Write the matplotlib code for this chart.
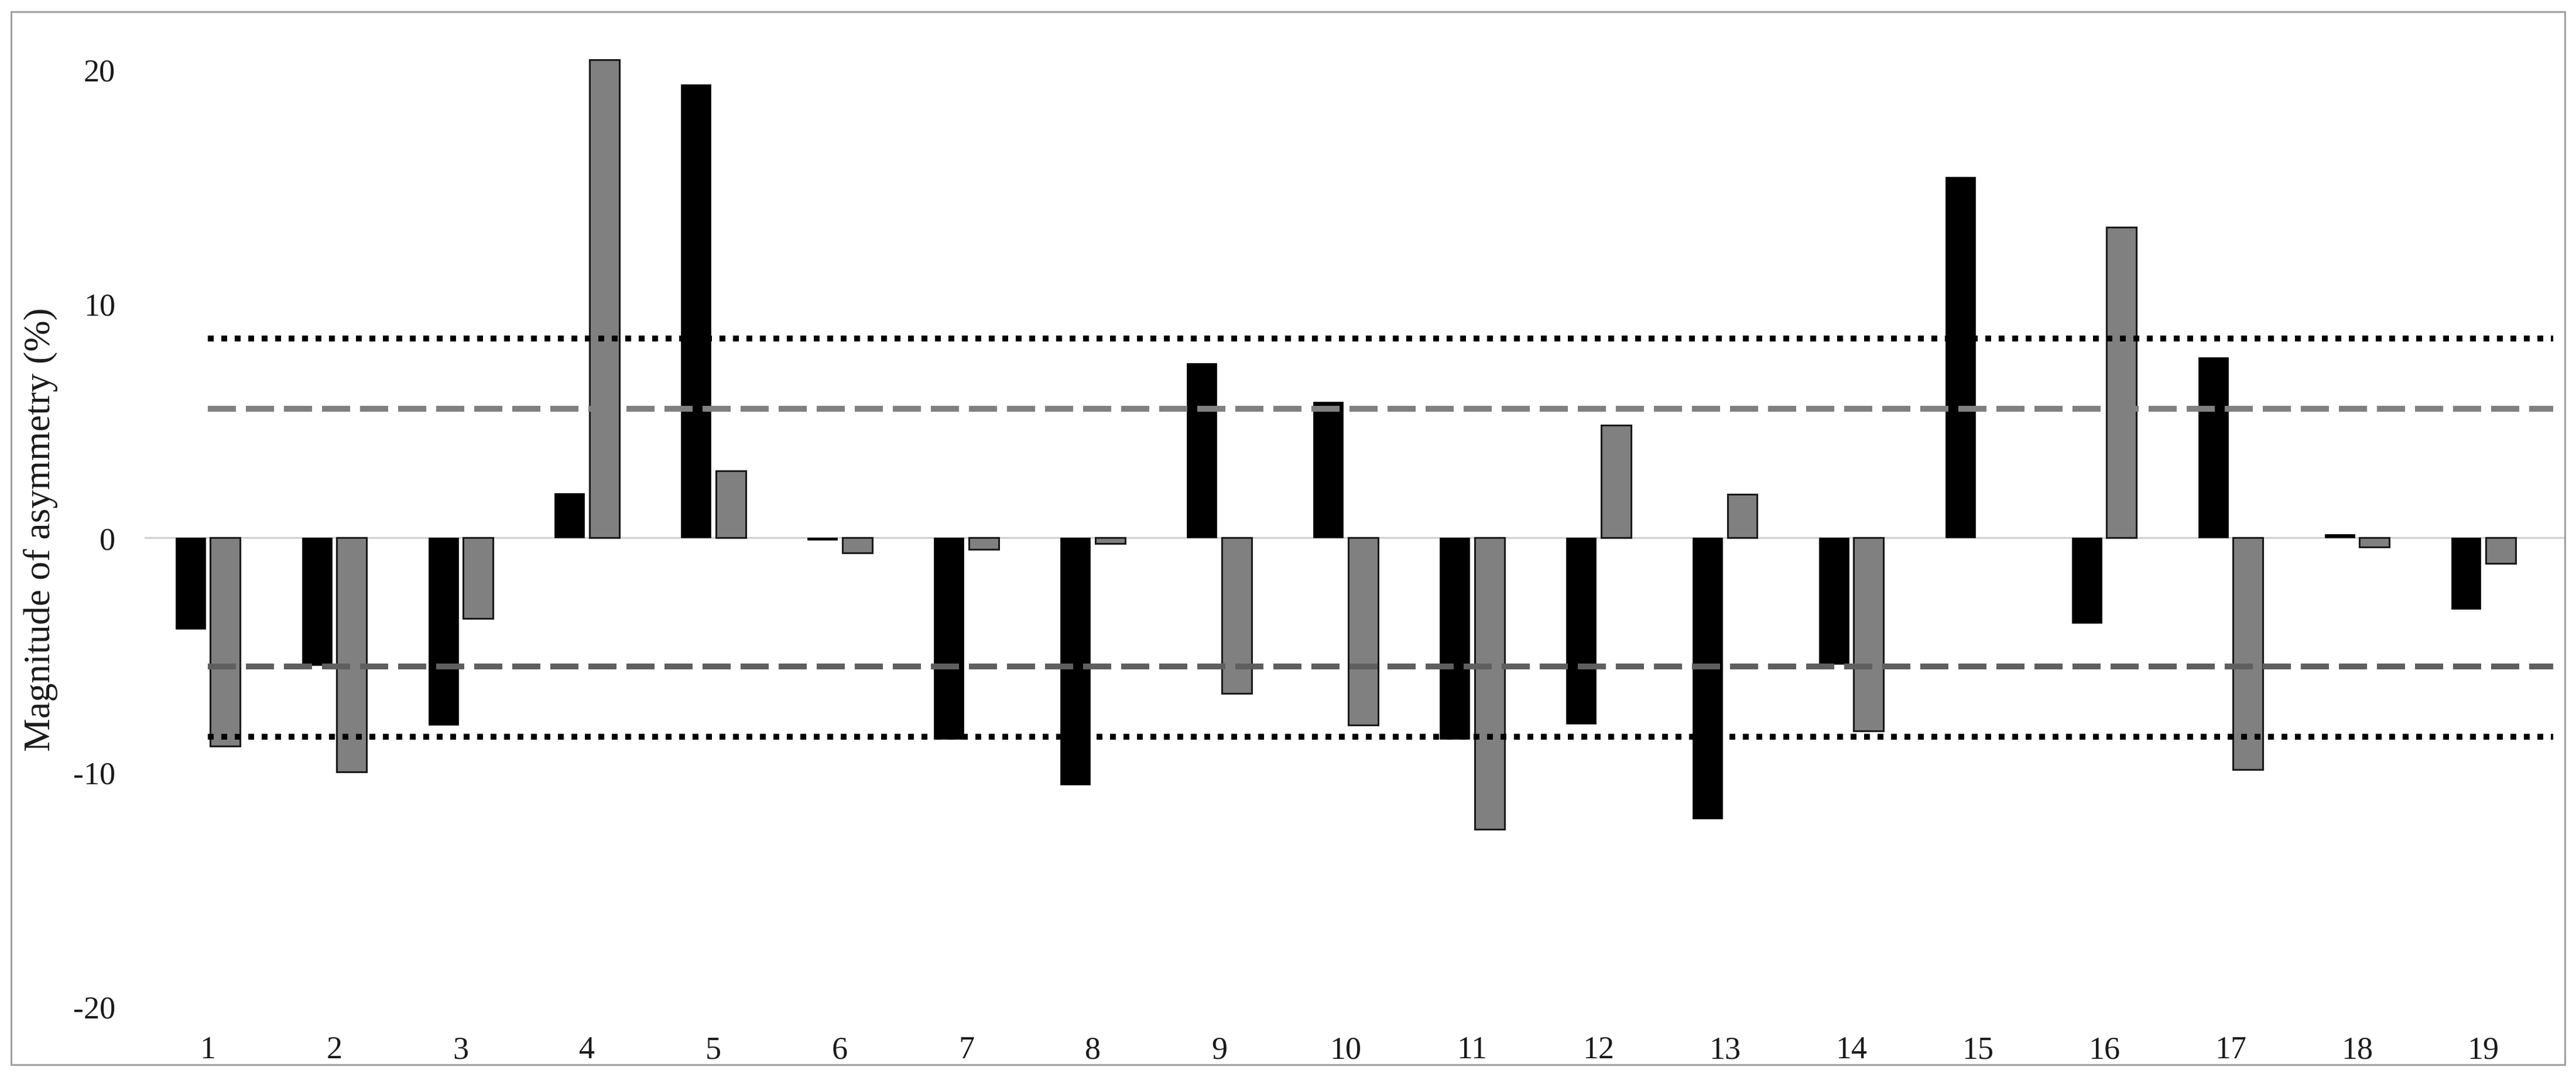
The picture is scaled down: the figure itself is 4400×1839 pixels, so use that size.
import matplotlib
matplotlib.use("Agg")
import matplotlib.pyplot as plt
import numpy as np
from matplotlib.patches import Rectangle

# ---- data ----
subjects = list(range(1, 20))
series_black = [-3.9, -5.45, -8.0, 1.9, 19.35, -0.1, -8.6, -10.55, 7.45, 5.8,
                -8.6, -7.95, -12.0, -5.4, 15.4, -3.65, 7.7, 0.15, -3.05]
series_grey = [-8.9, -10.0, -3.45, 20.4, 2.85, -0.65, -0.5, -0.25, -6.65, -8.0,
               -12.45, 4.8, 1.85, -8.25, 0.0, 13.25, -9.9, -0.4, -1.1]
threshold_dotted = [8.5, -8.5]
threshold_dashed_upper = 5.5
threshold_dashed_lower = -5.5
y_ticks = [-20, -10, 0, 10, 20]
y_label = "Magnitude of asymmetry (%)"

plt.rcParams['font.family'] = ['Liberation Serif', 'DejaVu Serif']

W, H = 4400, 1840
fig = plt.figure(figsize=(W / 100, H / 100), dpi=100)
fig.patch.set_facecolor('white')

ax = fig.add_axes([247 / W, 1 - 1719 / H, (4380 - 247) / W, (1719 - 39) / H])
ax.set_xlim(0.5, 19.64)
ax.set_ylim(-20, 22)

x = np.array(subjects, dtype=float)
bw = 0.236
off = 0.138
ax.bar(x - off, series_black, width=bw, color='black', edgecolor='black',
       linewidth=0.5, zorder=3)
grey_lw = [0 if v == 0 else 2.2 for v in series_grey]
ax.bar(x + off, series_grey, width=bw, color='#808080', edgecolor='#1a1a1a',
       linewidth=grey_lw, zorder=3)

# zero line
ax.axhline(0, color='#d0d0d0', linewidth=2.2, zorder=1)

# threshold lines
x0, x1 = 1.0, 19.55
for v in threshold_dotted:
    ax.plot([x0, x1], [v, v], color='black', linewidth=7.2,
            linestyle=(0, (1, 1.3)), dash_capstyle='butt', zorder=4)
ax.plot([x0, x1], [threshold_dashed_upper] * 2, color='#808080', linewidth=7.2,
        linestyle=(0, (4.8, 1.7)), dash_capstyle='butt', zorder=4)
ax.plot([x0, x1], [threshold_dashed_lower] * 2, color='#5f5f5f', linewidth=7.2,
        linestyle=(0, (4.8, 1.7)), dash_capstyle='butt', zorder=4)

ax.set_xticks(x)
ax.set_xticklabels([str(s) for s in subjects])
ax.set_yticks(y_ticks)
ax.set_yticklabels([str(t) for t in y_ticks])
ax.tick_params(axis='both', length=0, labelsize=39, colors='#1a1a1a')
ax.tick_params(axis='y', pad=36)
ax.tick_params(axis='x', pad=36)
for s in ax.spines.values():
    s.set_visible(False)

fig.text(70 / W, 1 - 904 / H, y_label, rotation=90, ha='center', va='center',
         fontsize=46, color='#1a1a1a')

# outer border
fig.patches.append(Rectangle((19 / W, 1 - 1819 / H), (4381 - 19) / W, (1819 - 21) / H,
                             transform=fig.transFigure, fill=False,
                             edgecolor='#a0a0a0', linewidth=2.2))

fig.savefig("out.png", dpi=100)
